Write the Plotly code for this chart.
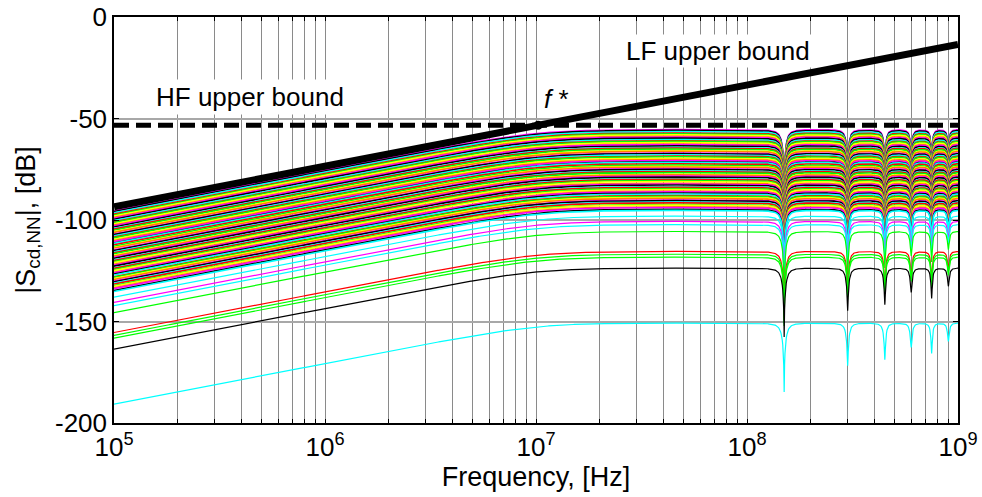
import numpy as np
import plotly.graph_objects as go

# ---------------- data ----------------
freq_range_hz = [1e5, 1e9]
corner_freq_hz = 1.0e7            # knee of every curve
notch_spacing_hz = 1.5e8          # notches at 150, 300, ... 900 MHz
notch_index = [1, 2, 3, 4, 5, 6]
notch_width_rel = [0.050, 0.068, 0.082, 0.094, 0.104, 0.114]
notch_depth_db = [34, 21, 18, 12, 15, 9]

# flat (high-frequency) level of each curve of the main band, dB
main_levels_db = [
    -55.4, -55.8, -56.4, -57.1, -57.5, -58.0, -58.7, -59.1, -59.6, -60.3,
    -60.9, -61.2, -61.8, -62.5, -62.8, -63.4, -64.1, -64.5, -65.0, -65.7,
    -66.1, -66.9, -67.2, -67.8, -68.4, -68.8, -69.5, -70.1, -70.6, -71.3,
    -71.5, -72.2, -72.9, -73.5, -73.8, -74.6, -75.0, -75.7, -76.1, -76.6,
    -77.4, -77.7, -78.3, -78.8, -79.6, -79.9, -80.5, -81.0, -81.8, -82.2,
    -82.7, -83.5, -83.8, -84.4, -84.9, -85.7, -86.0, -86.6, -87.1, -87.9,
    -88.2, -88.8, -89.3, -90.1, -90.4, -91.1, -91.5, -92.3, -92.6, -93.4,
    -93.8, -94.7, -95.2,
]
main_palette = ["#ff00ff", "#000000", "#00ffff", "#ff0000", "#00ff00",
                "#ffff00", "#ff8000"]

outlier_levels_db = [-98.0, -100.6, -102.2, -105.6, -115.4, -116.8, -118.2, -123.6, -150.7]
outlier_colors = ["#00ffff", "#ff00ff", "#00ffff", "#00ff00", "#ff0000",
                  "#00ff00", "#00ff00", "#000000", "#00ffff"]

lf_bound_freq_hz = [1e5, 1e9]
lf_bound_db = [-93.5, -13.5]
hf_bound_db = -53.3

x_tick_decades = [5, 6, 7, 8, 9]
y_tick_vals = [0, -50, -100, -150, -200]
y_tick_text = ["0", "-50", "-100", "-150", "-200"]

# ---------------- frequency grid ----------------
f = np.logspace(np.log10(freq_range_hz[0]), np.log10(freq_range_hz[1]), 1500)
extra = []
offs = np.array([-4, -3, -2.2, -1.6, -1.2, -0.9, -0.65, -0.45, -0.3, -0.18,
                 -0.09, -0.03, 0.0, 0.03, 0.09, 0.18, 0.3, 0.45, 0.65, 0.9,
                 1.2, 1.6, 2.2, 3, 4])
for n, w in zip(notch_index, notch_width_rel):
    extra.append(n * notch_spacing_hz + offs * w * notch_spacing_hz)
f = np.unique(np.concatenate([f] + extra))
f = f[(f >= freq_range_hz[0]) & (f <= freq_range_hz[1])]


def response_shape_db(freq):
    x = freq / corner_freq_hz
    hp = 20 * np.log10(x) - (20.0 / 3.0) * np.log10(1 + x ** 3)
    notch = np.zeros_like(freq)
    for n, w, dep in zip(notch_index, notch_width_rel, notch_depth_db):
        d = w * 10 ** (-dep / 20.0)
        delta = (freq - n * notch_spacing_hz) / notch_spacing_hz
        notch += 10 * np.log10((delta ** 2 + d ** 2) / (delta ** 2 + w ** 2))
    return hp + notch


shape = response_shape_db(f)

fig = go.Figure()
for i, lvl in enumerate(main_levels_db):
    fig.add_trace(go.Scatter(x=f, y=lvl + shape, mode="lines",
                             line=dict(color=main_palette[i % len(main_palette)], width=1.6),
                             hoverinfo="skip", showlegend=False))
for lvl, col in zip(outlier_levels_db, outlier_colors):
    fig.add_trace(go.Scatter(x=f, y=lvl + shape, mode="lines",
                             line=dict(color=col, width=1.2),
                             hoverinfo="skip", showlegend=False))

# bounds
fig.add_trace(go.Scatter(x=freq_range_hz, y=[hf_bound_db, hf_bound_db], mode="lines",
                         line=dict(color="black", width=5, dash="15px,7px"),
                         showlegend=False, hoverinfo="skip"))
fig.add_trace(go.Scatter(x=lf_bound_freq_hz, y=lf_bound_db, mode="lines",
                         line=dict(color="black", width=7),
                         showlegend=False, hoverinfo="skip"))
slope = (lf_bound_db[1] - lf_bound_db[0]) / (np.log10(lf_bound_freq_hz[1]) - np.log10(lf_bound_freq_hz[0]))
f_star = lf_bound_freq_hz[0] * 10 ** ((hf_bound_db - lf_bound_db[0]) / slope)
fig.add_trace(go.Scatter(x=[f_star], y=[hf_bound_db], mode="markers",
                         marker=dict(color="black", size=9),
                         showlegend=False, hoverinfo="skip"))

FONT = "Liberation Sans, Arial, sans-serif"

# x ticks: all 1..9 x decade for the grid, labels only on decades
xt_vals, xt_text = [], []
for dec in x_tick_decades:
    for m in range(1, 10):
        v = m * 10.0 ** dec
        if v > freq_range_hz[1] * 1.0001:
            break
        xt_vals.append(v)
        xt_text.append("10<sup>%d</sup>" % dec if m == 1 else "")

fig.update_layout(
    width=982, height=497,
    margin=dict(l=114, r=24, t=17, b=74),
    paper_bgcolor="white", plot_bgcolor="white",
    font=dict(family=FONT, size=26, color="black"),
    showlegend=False,
    xaxis=dict(type="log", range=[5, 9], tickvals=xt_vals, ticktext=xt_text,
               showgrid=True, gridcolor="#8a8a8a", gridwidth=1,
               ticks="inside", ticklen=4, tickcolor="black",
               showline=True, linecolor="black", linewidth=1.5, mirror="allticks",
               zeroline=False, tickfont=dict(size=26), automargin=False,
               title=dict(text="Frequency, [Hz]", font=dict(size=27), standoff=2)),
    yaxis=dict(range=[-200, 0], tickvals=y_tick_vals, ticktext=y_tick_text,
               showgrid=True, gridcolor="#a8a8a8", gridwidth=1.5,
               ticks="inside", ticklen=5, tickcolor="black",
               showline=True, linecolor="black", linewidth=1.5, mirror="allticks",
               zeroline=False, tickfont=dict(size=26), automargin=False,
               title=dict(text="|S<sub>cd,NN</sub>|, [dB]", font=dict(size=27), standoff=12)),
    annotations=[
        dict(x=5.645, y=-39.3, xref="x", yref="y", text="HF upper bound", showarrow=False,
             font=dict(size=26), bgcolor="white", borderpad=2),
        dict(x=7.862, y=-16.8, xref="x", yref="y", text="LF upper bound", showarrow=False,
             font=dict(size=26), bgcolor="white", borderpad=1),
        dict(x=7.095, y=-40.5, xref="x", yref="y", text="<i>f</i> *", showarrow=False,
             font=dict(size=26)),
    ],
)

fig.write_html("out.html")
